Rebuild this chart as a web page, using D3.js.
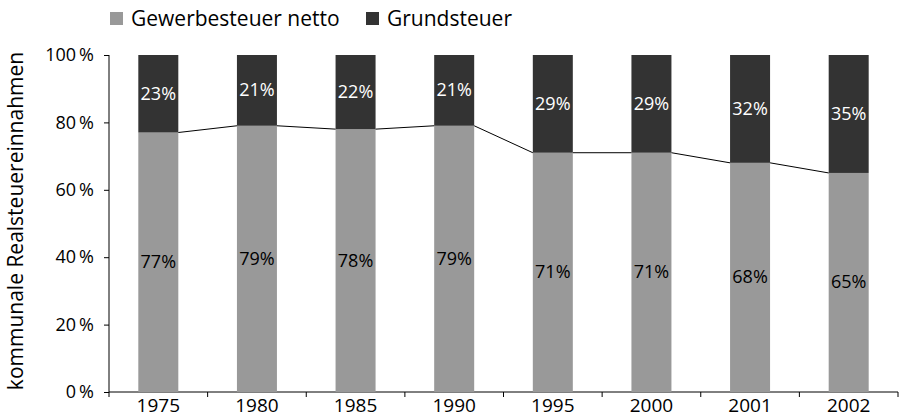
<!DOCTYPE html>
<html>
<head>
<meta charset="utf-8">
<script src="https://cdn.jsdelivr.net/npm/d3@7"></script>
<style>
  body { margin: 0; background: #fff; }
  text { font-family: "Open Sans", "Noto Sans", sans-serif; }
</style>
</head>
<body>
<svg id="chart" width="902" height="418"></svg>
<script>
var years = ['1975', '1980', '1985', '1990', '1995', '2000', '2001', '2002']
var gewerbe = [77, 79, 78, 79, 71, 71, 68, 65]
var grund = [23, 21, 22, 21, 29, 29, 32, 35]
var seriesNames = ['Gewerbesteuer netto', 'Grundsteuer']
var seriesColors = ['#999999', '#333333']
var yTicks = [0, 20, 40, 60, 80, 100]

var svg = d3.select('#chart')
var mLeft = 109, mRight = 898, mTop = 55, mBottom = 392
var barW = 40

var x = d3.scaleBand().domain(years).range([mLeft, mRight])
var y = d3.scaleLinear().domain([0, 100]).range([mBottom, mTop])

// y axis
var yAxis = svg.append('g')
    .attr('transform', 'translate(' + mLeft + ',0)')
    .call(d3.axisLeft(y).tickValues(yTicks).tickSize(5).tickPadding(10)
        .tickFormat(function(d){ return d + '\u2009%' }))
yAxis.selectAll('text').style('font-size', '18px').attr('fill', '#000')
yAxis.selectAll('line, path').attr('stroke', '#000')
yAxis.select('.domain').attr('d', 'M0,' + mTop + 'V' + mBottom)

// x axis - ticks at band boundaries
var xg = svg.append('g').attr('transform', 'translate(0,' + mBottom + ')')
xg.append('line').attr('x1', mLeft).attr('x2', mRight).attr('stroke', '#000')
var bounds = years.map(function(d){ return x(d) }).concat([mRight])
xg.selectAll('.tk').data(bounds).enter().append('line')
    .attr('x1', function(d){ return d }).attr('x2', function(d){ return d })
    .attr('y1', 0).attr('y2', 5).attr('stroke', '#000')
xg.selectAll('.lbl').data(years).enter().append('text')
    .attr('x', function(d){ return x(d) + x.bandwidth() / 2 })
    .attr('y', 20)
    .attr('text-anchor', 'middle')
    .style('font-size', '19px')
    .text(function(d){ return d })

function cx(d){ return x(d) + x.bandwidth() / 2 }

// bars
svg.selectAll('.g1').data(years).enter().append('rect')
    .attr('x', function(d){ return cx(d) - barW / 2 })
    .attr('y', function(d, i){ return y(gewerbe[i]) })
    .attr('width', barW)
    .attr('height', function(d, i){ return mBottom - y(gewerbe[i]) })
    .attr('fill', seriesColors[0])
svg.selectAll('.g2').data(years).enter().append('rect')
    .attr('x', function(d){ return cx(d) - barW / 2 })
    .attr('y', function(d, i){ return y(gewerbe[i] + grund[i]) })
    .attr('width', barW)
    .attr('height', function(d, i){ return y(gewerbe[i]) - y(gewerbe[i] + grund[i]) })
    .attr('fill', seriesColors[1])

// series lines
for (var i = 0; i < years.length - 1; i++) {
    svg.append('line')
        .attr('x1', cx(years[i]) + barW / 2).attr('y1', y(gewerbe[i]))
        .attr('x2', cx(years[i + 1]) - barW / 2).attr('y2', y(gewerbe[i + 1]))
        .attr('stroke', '#000').attr('stroke-width', 1)
}

// labels
svg.selectAll('.l1').data(years).enter().append('text')
    .attr('x', cx)
    .attr('y', function(d, i){ return y(gewerbe[i] / 2) + 6 })
    .attr('text-anchor', 'middle')
    .style('font-size', '18px')
    .attr('fill', '#000')
    .text(function(d, i){ return gewerbe[i] + '%' })
svg.selectAll('.l2').data(years).enter().append('text')
    .attr('x', cx)
    .attr('y', function(d, i){ return y(gewerbe[i] + grund[i] / 2) + 6 })
    .attr('text-anchor', 'middle')
    .style('font-size', '18px')
    .attr('fill', '#fff')
    .text(function(d, i){ return grund[i] + '%' })

// y title
svg.append('text')
    .attr('transform', 'translate(23,221) rotate(-90)')
    .attr('text-anchor', 'middle')
    .style('font-size', '21px')
    .text('kommunale Realsteuereinnahmen')

// legend
var legX = [110, 366]
seriesNames.forEach(function(n, i){
    svg.append('rect').attr('x', legX[i]).attr('y', 12).attr('width', 13).attr('height', 13)
        .attr('fill', seriesColors[i])
    svg.append('text').attr('x', legX[i] + 21).attr('y', 26)
        .style('font-size', '21px').text(n)
})
</script>
</body>
</html>
